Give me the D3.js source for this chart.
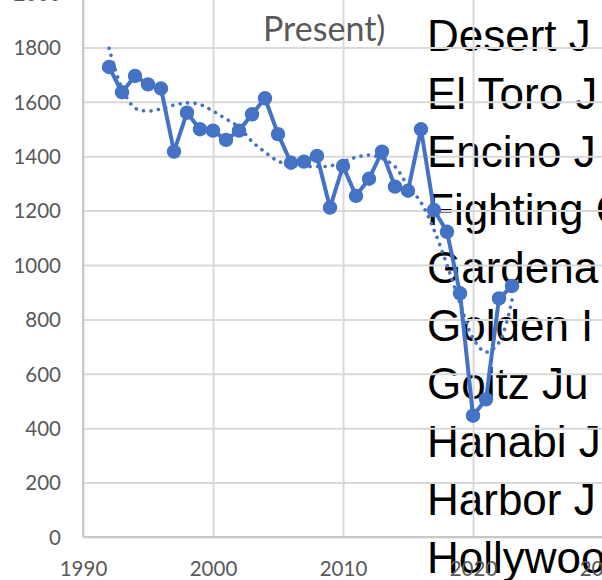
<!DOCTYPE html>
<html>
<head>
<meta charset="utf-8">
<script src="https://cdn.jsdelivr.net/npm/d3@7"></script>
<style>
  html, body { margin: 0; padding: 0; background: #ffffff; overflow: hidden; }
  svg { display: block; }
</style>
</head>
<body>
<svg id="chart" width="602" height="580"></svg>
<script>
// ---- data ----
const years = [1992,1993,1994,1995,1996,1997,1998,1999,2000,2001,2002,2003,2004,2005,2006,2007,
               2008,2009,2010,2011,2012,2013,2014,2015,2016,2017,2018,2019,2020,2021,2022,2023];
const values = [1728,1635,1695,1664,1649,1417,1560,1499,1494,1460,1494,1554,1613,1481,1376,1380,
                1401,1211,1364,1254,1317,1417,1288,1273,1499,1202,1122,896,446,506,877,923];
const trendValues = [1797,1650,1577,1566,1574,1588,1596,1590,1566,1537,1507,1454,1415,1382,1368,1362,
                     1362,1364,1380,1396,1404,1392,1362,1290,1230,1129,1000,860,731,680,715,871];
const xTicks = [1990,2000,2010,2020,2030];
const yTicks = [0,200,400,600,800,1000,1200,1400,1600,1800,2000];
const titleText = "Present)";
const sideNames = ["Desert J","El Toro J","Encino J","Fighting C","Gardena","Golden I",
                   "Goltz Ju","Hanabi J","Harbor J","Hollywoo"];

// ---- layout ----
const svg = d3.select("#chart");
const left = 83, bottom = 537;
const x = d3.scaleLinear().domain([1990, 2030]).range([left, 603]);
const y = d3.scaleLinear().domain([0, 2000]).range([bottom, bottom - 544]);

// background cell text (drawn under the chart)
svg.append("g").selectAll("text").data(sideNames).join("text")
  .attr("x", 427)
  .attr("y", (d, i) => 50.5 + i * 58)
  .attr("font-family", "'Liberation Sans', Arial, sans-serif")
  .attr("font-size", 44)
  .attr("fill", "#000000")
  .text(d => d);

// gridlines
const grid = svg.append("g");
grid.append("g")
  .attr("transform", `translate(0,${bottom})`)
  .call(d3.axisBottom(x).tickValues(xTicks).tickSize(-(bottom + 20)).tickFormat(""))
  .call(g => g.select(".domain").remove())
  .call(g => g.selectAll("line").attr("stroke", "#d9d9d9").attr("stroke-width", 2));
grid.append("g")
  .attr("transform", `translate(${left},0)`)
  .call(d3.axisLeft(y).tickValues(yTicks).tickSize(-(602 - left)).tickFormat(""))
  .call(g => g.select(".domain").remove())
  .call(g => g.selectAll("line").attr("stroke", "#d9d9d9").attr("stroke-width", 2));

// axis lines
svg.append("line").attr("x1", left).attr("x2", 602).attr("y1", bottom).attr("y2", bottom)
  .attr("stroke", "#c8c8c8").attr("stroke-width", 2);
svg.append("line").attr("x1", left).attr("x2", left).attr("y1", -10).attr("y2", bottom)
  .attr("stroke", "#c8c8c8").attr("stroke-width", 2);

// tick labels
const tickFont = "Lato, 'Open Sans', sans-serif";
svg.append("g")
  .attr("transform", `translate(0,${bottom})`)
  .call(d3.axisBottom(x).tickValues(xTicks).tickSize(0).tickPadding(0).tickFormat(d3.format("d")))
  .call(g => g.select(".domain").remove())
  .call(g => g.selectAll("text").attr("dy", 0).attr("y", 39)
    .attr("font-family", tickFont).attr("font-size", 20.5).attr("fill", "#595959"));
svg.append("g")
  .attr("transform", `translate(${left},0)`)
  .call(d3.axisLeft(y).tickValues(yTicks).tickSize(0).tickPadding(0).tickFormat(d3.format("d")))
  .call(g => g.select(".domain").remove())
  .call(g => g.selectAll("text").attr("x", -22).attr("dy", "0.36em")
    .attr("font-family", tickFont).attr("font-size", 20.5).attr("fill", "#595959"));

// title fragment
svg.append("text")
  .attr("x", 263).attr("y", 41)
  .attr("font-family", tickFont)
  .attr("font-size", 34)
  .attr("fill", "#595959")
  .text(titleText);

// trendline (dotted)
const trendLine = d3.line().x((d, i) => x(years[i])).y(d => y(d)).curve(d3.curveCatmullRom.alpha(0.5));
svg.append("path")
  .datum(trendValues)
  .attr("d", trendLine)
  .attr("fill", "none")
  .attr("stroke", "#4472c4")
  .attr("stroke-width", 3.6)
  .attr("stroke-linecap", "round")
  .attr("stroke-dasharray", "0.1 7.4");

// series line
const line = d3.line().x((d, i) => x(years[i])).y(d => y(d));
svg.append("path")
  .datum(values)
  .attr("d", line)
  .attr("fill", "none")
  .attr("stroke", "#4472c4")
  .attr("stroke-width", 4)
  .attr("stroke-linejoin", "round");

// markers
svg.append("g").selectAll("circle").data(values).join("circle")
  .attr("cx", (d, i) => x(years[i]))
  .attr("cy", d => y(d))
  .attr("r", 7.2)
  .attr("fill", "#4472c4");
</script>
</body>
</html>
